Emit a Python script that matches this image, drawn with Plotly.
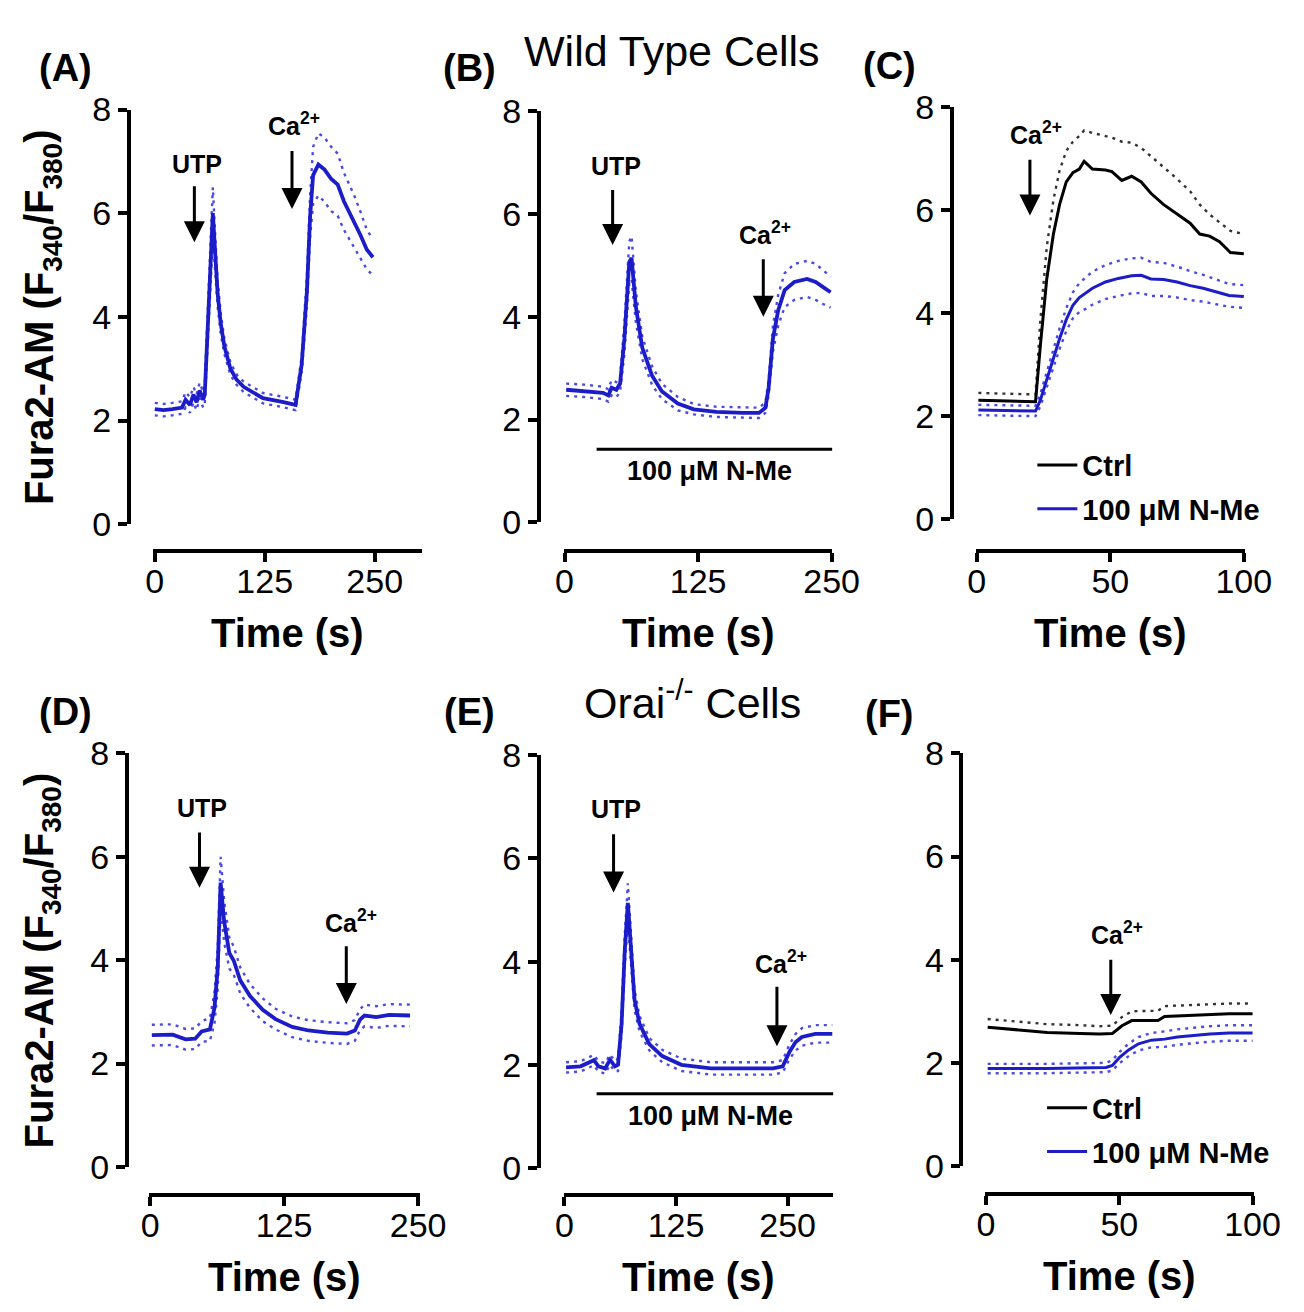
import plotly.graph_objects as go

W, H = 1304, 1312
FONT = "Liberation Sans, Arial, sans-serif"
BLUE = "#1c1cc8"
DOT_BLUE = "#4a4ae8"

# (A) wild type cells, UTP then Ca2+ re-addition
a_t = [0, 10, 20, 31, 35, 40, 44, 47.5, 51, 55, 56.8, 61, 66, 68.8, 71.5, 75, 79, 86, 93, 101, 123, 145, 160,
       167, 173, 176.6, 180, 186, 193, 200.6, 208, 215, 226, 233.8, 241, 248]
a_mean = [2.22, 2.2, 2.22, 2.25, 2.4, 2.3, 2.5, 2.35, 2.58, 2.4, 2.5, 4.2, 6.0, 5.2, 4.44, 3.87, 3.44, 3.0, 2.79,
          2.65, 2.43, 2.36, 2.3, 3.08, 4.5, 5.94, 6.73, 6.94, 6.84, 6.66, 6.55, 6.23, 5.87, 5.58, 5.3, 5.15]
a_sem = [0.12, 0.12, 0.12, 0.12, 0.15, 0.15, 0.15, 0.15, 0.15, 0.15, 0.2, 0.35, 0.5, 0.35, 0.25, 0.2, 0.15, 0.12,
         0.1, 0.1, 0.1, 0.1, 0.1, 0.15, 0.3, 0.4, 0.55, 0.6, 0.62, 0.62, 0.6, 0.55, 0.5, 0.45, 0.38, 0.35]

# (B) wild type cells + 100 uM N-Me
b_t = [1.5, 18, 36, 41, 44, 48.5, 52, 56, 60.6, 62.7, 66.7, 72.7, 81.8, 91, 106, 121, 142, 167, 182, 188, 191,
       195, 200, 206, 215, 227, 235, 242, 249]
b_mean = [2.58, 2.56, 2.52, 2.47, 2.62, 2.58, 2.70, 3.57, 5.07, 5.15, 4.2, 3.4, 2.86, 2.55, 2.31, 2.2, 2.15, 2.13,
          2.13, 2.23, 2.62, 3.57, 4.13, 4.52, 4.68, 4.74, 4.68, 4.58, 4.48]
b_sem = [0.12, 0.12, 0.12, 0.12, 0.15, 0.15, 0.15, 0.3, 0.4, 0.42, 0.3, 0.22, 0.18, 0.15, 0.13, 0.1, 0.1, 0.1,
         0.1, 0.1, 0.15, 0.25, 0.3, 0.33, 0.35, 0.35, 0.35, 0.33, 0.3]

# (C) wild type cells, Ca2+ re-addition, Ctrl vs N-Me
c_ctrl_t = [0.6, 22, 23.8, 26.2, 28.7, 31, 33.5, 36, 38.4, 40.2, 43.3, 48.2, 50.6, 54.3, 58, 61.6, 65.2, 70, 75,
            79.9, 83.5, 87.2, 90.9, 95, 100]
c_ctrl = [2.31, 2.28, 3.36, 4.66, 5.53, 6.1, 6.54, 6.72, 6.79, 6.94, 6.79, 6.77, 6.74, 6.57, 6.65, 6.54, 6.32,
          6.1, 5.92, 5.74, 5.53, 5.49, 5.38, 5.17, 5.15]
c_ctrl_sem = [0.14, 0.14, 0.5, 0.62, 0.66, 0.66, 0.6, 0.6, 0.64, 0.6, 0.7, 0.65, 0.66, 0.75, 0.65, 0.66, 0.72,
              0.74, 0.68, 0.62, 0.57, 0.42, 0.38, 0.42, 0.38]
c_nme_t = [0.6, 22, 23.8, 26.2, 28.7, 31, 33.5, 36, 38.4, 40.8, 43.3, 48.2, 53, 58, 61.6, 65.2, 70, 75, 79.9,
           84.8, 89.6, 94.5, 100]
c_nme = [2.12, 2.10, 2.31, 2.71, 3.14, 3.5, 3.87, 4.15, 4.3, 4.38, 4.48, 4.6, 4.67, 4.72, 4.73, 4.66, 4.65, 4.6,
         4.53, 4.48, 4.41, 4.34, 4.32]
c_nme_sem = [0.1, 0.1, 0.12, 0.15, 0.18, 0.2, 0.22, 0.25, 0.28, 0.3, 0.32, 0.33, 0.34, 0.34, 0.34, 0.33, 0.32,
             0.3, 0.28, 0.26, 0.24, 0.22, 0.22]

# (D) Orai-/- cells
d_t = [1.5, 21, 33, 42, 48, 55.7, 60, 63, 65.7, 69, 73.8, 78, 84, 93, 105, 117, 132.5, 147.6, 165.7, 183.7, 191,
       195.8, 200, 211, 223, 235, 242.5]
d_mean = [2.55, 2.56, 2.47, 2.48, 2.62, 2.66, 3.08, 3.84, 5.5, 4.75, 4.14, 3.99, 3.61, 3.31, 3.04, 2.86, 2.71,
          2.64, 2.6, 2.58, 2.64, 2.85, 2.93, 2.9, 2.94, 2.94, 2.93]
d_sem = [0.2, 0.2, 0.2, 0.2, 0.2, 0.22, 0.3, 0.4, 0.5, 0.4, 0.3, 0.27, 0.25, 0.23, 0.22, 0.2, 0.2, 0.2, 0.2, 0.2,
         0.2, 0.2, 0.21, 0.21, 0.21, 0.21, 0.21]

# (E) Orai-/- cells + 100 uM N-Me
e_t = [1.8, 18, 33, 38, 45.6, 51, 56.6, 60, 64, 67.5, 71, 75, 78.5, 84, 95, 109.5, 131, 164, 200.7, 233.6, 244.5,
       252, 259, 266, 281, 300]
e_mean = [1.95, 1.97, 2.09, 1.97, 1.93, 2.1, 1.97, 2.0, 2.8, 4.2, 5.14, 4.05, 3.26, 2.8, 2.4, 2.17, 2.0, 1.93,
          1.93, 1.93, 1.97, 2.25, 2.44, 2.54, 2.6, 2.6]
e_sem = [0.1, 0.1, 0.1, 0.1, 0.1, 0.1, 0.1, 0.12, 0.2, 0.3, 0.38, 0.3, 0.2, 0.15, 0.12, 0.12, 0.12, 0.12, 0.12,
         0.12, 0.12, 0.14, 0.16, 0.17, 0.17, 0.17]

# (F) Orai-/- cells, Ca2+ re-addition, Ctrl vs N-Me
f_ctrl_t = [0.6, 11, 23, 35.3, 42.6, 47.4, 51, 54.7, 64.5, 67, 71.8, 77.9, 84, 91.2, 96, 100]
f_ctrl = [2.69, 2.65, 2.59, 2.57, 2.56, 2.57, 2.72, 2.82, 2.82, 2.9, 2.91, 2.93, 2.93, 2.95, 2.95, 2.95]
f_ctrl_sem = [0.16, 0.16, 0.16, 0.16, 0.15, 0.15, 0.17, 0.18, 0.19, 0.2, 0.2, 0.2, 0.2, 0.2, 0.2, 0.2]
f_nme_t = [0.6, 23, 45, 47.4, 50, 53.5, 57.2, 62, 67, 71.8, 77.9, 84, 91.2, 100]
f_nme = [1.89, 1.89, 1.91, 1.95, 2.1, 2.25, 2.37, 2.44, 2.46, 2.5, 2.53, 2.56, 2.58, 2.58]
f_nme_sem = [0.09, 0.09, 0.09, 0.1, 0.11, 0.12, 0.13, 0.14, 0.15, 0.15, 0.15, 0.15, 0.15, 0.15]

y_ticks = [0, 2, 4, 6, 8]
x_ticks_long = [0, 125, 250]
x_ticks_short = [0, 50, 100]

# panel geometry in pixels: x domain, y top/bottom, y-axis x, x-axis y, x range, ticks
panels = {
    1: dict(xd=(140, 417), yt=85, yb=512, yl=115, xl=540, xr=[-2, 304], ticks=x_ticks_long),
    2: dict(xd=(563, 839), yt=87, yb=510, yl=537, xl=540, xr=[-0.5, 250.5], ticks=x_ticks_long),
    3: dict(xd=(987, 1264), yt=82, yb=507, yl=962, xl=540, xr=[-0.3, 100.5], ticks=x_ticks_short),
    4: dict(xd=(136, 415), yt=748, yb=1174, yl=113, xl=1203, xr=[-1, 252], ticks=x_ticks_long),
    5: dict(xd=(563, 840), yt=750, yb=1175, yl=537, xl=1203, xr=[-0.5, 301], ticks=x_ticks_long),
    6: dict(xd=(996, 1273), yt=748, yb=1173, yl=972, xl=1202, xr=[-0.5, 100.5], ticks=x_ticks_short),
}


def px(v):
    return v / W


def py(v):
    return 1 - v / H


def paper_text(text, x, y, size, angle=0):
    return dict(text=text, xref="paper", yref="paper", x=px(x), y=py(y), xanchor="center", yanchor="middle",
                textangle=angle, showarrow=False, font=dict(size=size, family=FONT, color="black"))


fig = go.Figure()
layout = dict(width=W, height=H, margin=dict(l=0, r=0, t=0, b=0), autosize=False,
              plot_bgcolor="white", paper_bgcolor="white", font=dict(family=FONT, color="black"))
annotations = []
shapes = []

tickfont = dict(family=FONT, size=34, color="black")
for n, p in panels.items():
    sfx = "" if n == 1 else str(n)
    layout["xaxis" + sfx] = dict(
        domain=[px(p["xd"][0]), px(p["xd"][1])], range=p["xr"], anchor="free", position=py(p["xl"]),
        showline=True, linewidth=3.5, linecolor="black", ticks="outside", ticklen=9, tickwidth=3.5,
        tickcolor="black", tickvals=p["ticks"], showgrid=False, zeroline=False, tickfont=tickfont,
        ticklabelstandoff=-10, fixedrange=True)
    layout["yaxis" + sfx] = dict(
        domain=[py(p["yb"]), py(p["yt"])], range=[0, 8], anchor="free", position=px(p["yl"]),
        showline=True, linewidth=3.5, linecolor="black", ticks="outside", ticklen=9, tickwidth=3.5,
        tickcolor="black", tickvals=y_ticks, showgrid=False, zeroline=False, tickfont=tickfont,
        fixedrange=True)
    annotations.append(paper_text("<b>Time (s)</b>", (p["xd"][0] + p["xd"][1]) / 2, p["xl"] + 84, 40))


def add_mean_sem(n, t, mean, sem, color, dot_color, width, lower=True, name=None, legend=None):
    ax = "x" if n == 1 else "x" + str(n)
    ay = "y" if n == 1 else "y" + str(n)
    upper = [m + s for m, s in zip(mean, sem)]
    fig.add_trace(go.Scatter(x=t, y=upper, mode="lines", xaxis=ax, yaxis=ay, showlegend=False,
                             line=dict(color=dot_color, width=2.4, dash="3px,5px")))
    if lower:
        low = [m - s for m, s in zip(mean, sem)]
        fig.add_trace(go.Scatter(x=t, y=low, mode="lines", xaxis=ax, yaxis=ay, showlegend=False,
                                 line=dict(color=dot_color, width=2.4, dash="3px,5px")))
    fig.add_trace(go.Scatter(x=t, y=mean, mode="lines", xaxis=ax, yaxis=ay, name=name,
                             showlegend=name is not None, legend=legend, legendgroup=name,
                             line=dict(color=color, width=width)))


add_mean_sem(1, a_t, a_mean, a_sem, BLUE, DOT_BLUE, 3.8)
add_mean_sem(2, b_t, b_mean, b_sem, BLUE, DOT_BLUE, 3.8)
add_mean_sem(3, c_ctrl_t, c_ctrl, c_ctrl_sem, "black", "#333333", 3, lower=False,
             name="<b>Ctrl</b>", legend="legend")
add_mean_sem(3, c_nme_t, c_nme, c_nme_sem, BLUE, DOT_BLUE, 3, name="<b>100 \u03bcM N-Me</b>", legend="legend")
add_mean_sem(4, d_t, d_mean, d_sem, BLUE, DOT_BLUE, 3.8)
add_mean_sem(5, e_t, e_mean, e_sem, BLUE, DOT_BLUE, 3.8)
add_mean_sem(6, f_ctrl_t, f_ctrl, f_ctrl_sem, "black", "#333333", 3, lower=False,
             name="<b>Ctrl</b> ", legend="legend2")
add_mean_sem(6, f_nme_t, f_nme, f_nme_sem, BLUE, DOT_BLUE, 3, name="<b>100 \u03bcM N-Me</b> ", legend="legend2")

legend_style = dict(font=dict(size=29, family=FONT, color="black"), bgcolor="rgba(0,0,0,0)",
                    xanchor="left", yanchor="top", tracegroupgap=3, itemwidth=40)
layout["legend"] = dict(x=px(1045), y=py(425), **legend_style)
layout["legend2"] = dict(x=px(1055), y=py(1087), **legend_style)


# stimulus markers: (panel, label, text x, text y, arrow x, arrow top, arrow tip)
stimuli = [
    (1, "UTP", 48, 6.94, 45, 6.55, 5.44),
    (1, "Ca<sup>2+</sup>", 158, 7.73, 156, 7.23, 6.08),
    (2, "UTP", 48.5, 6.93, 45, 6.5, 5.4),
    (2, "Ca<sup>2+</sup>", 188, 5.63, 186, 5.15, 4.0),
    (3, "Ca<sup>2+</sup>", 22, 7.48, 19.9, 7.0, 5.89),
    (4, "UTP", 48, 6.95, 46, 6.5, 5.4),
    (4, "Ca<sup>2+</sup>", 187, 4.75, 183, 4.3, 3.15),
    (5, "UTP", 58, 6.96, 55, 6.5, 5.34),
    (5, "Ca<sup>2+</sup>", 243, 4.0, 238, 3.54, 2.36),
    (6, "Ca<sup>2+</sup>", 49.3, 4.52, 46.8, 4.03, 2.93),
]
for n, label, tx, ty, arx, a0, a1 in stimuli:
    xr = "x" if n == 1 else "x" + str(n)
    yr = "y" if n == 1 else "y" + str(n)
    annotations.append(dict(text="<b>" + label + "</b>", x=tx, y=ty, xref=xr, yref=yr, showarrow=False,
                            xanchor="center", yanchor="middle",
                            font=dict(size=25, family=FONT, color="black")))
    annotations.append(dict(text="", x=arx, y=a1, ax=arx, ay=a0, xref=xr, yref=yr, axref=xr, ayref=yr,
                            showarrow=True, arrowhead=2, arrowsize=1.4, arrowwidth=3, arrowcolor="black"))

# N-Me application bars
nme_bars = [(2, 30, 251, 1.42, 136, 1.0), (5, 36, 303, 1.44, 164, 1.0)]
for n, x0, x1, yb, tx, ty in nme_bars:
    xr, yr = "x" + str(n), "y" + str(n)
    shapes.append(dict(type="line", xref=xr, yref=yr, x0=x0, x1=x1, y0=yb, y1=yb,
                       line=dict(color="black", width=3)))
    annotations.append(dict(text="<b>100 \u03bcM N-Me</b>", x=tx, y=ty, xref=xr, yref=yr, showarrow=False,
                            xanchor="center", yanchor="middle",
                            font=dict(size=27, family=FONT, color="black")))

# y titles
for yc in [(85 + 512) / 2, (748 + 1174) / 2]:
    annotations.append(paper_text("<b>Fura2-AM (F<sub>340</sub>/F<sub>380</sub>)</b>", 26, yc, 40, -90))

# panel letters
for lab, x, y in [("(A)", 50, 42), ("(B)", 466, 42), ("(C)", 898, 40),
                  ("(D)", 50, 705), ("(E)", 466, 705), ("(F)", 898, 708)]:
    annotations.append(paper_text("<b>" + lab + "</b>", x, y, 38))

# row titles
annotations.append(paper_text("Wild Type Cells", 674, 25, 43))
annotations.append(paper_text("Orai<sup>-/-</sup> Cells", 695, 693, 43))

layout["annotations"] = annotations
layout["shapes"] = shapes
fig.update_layout(**layout)
fig.write_html("out.html")
